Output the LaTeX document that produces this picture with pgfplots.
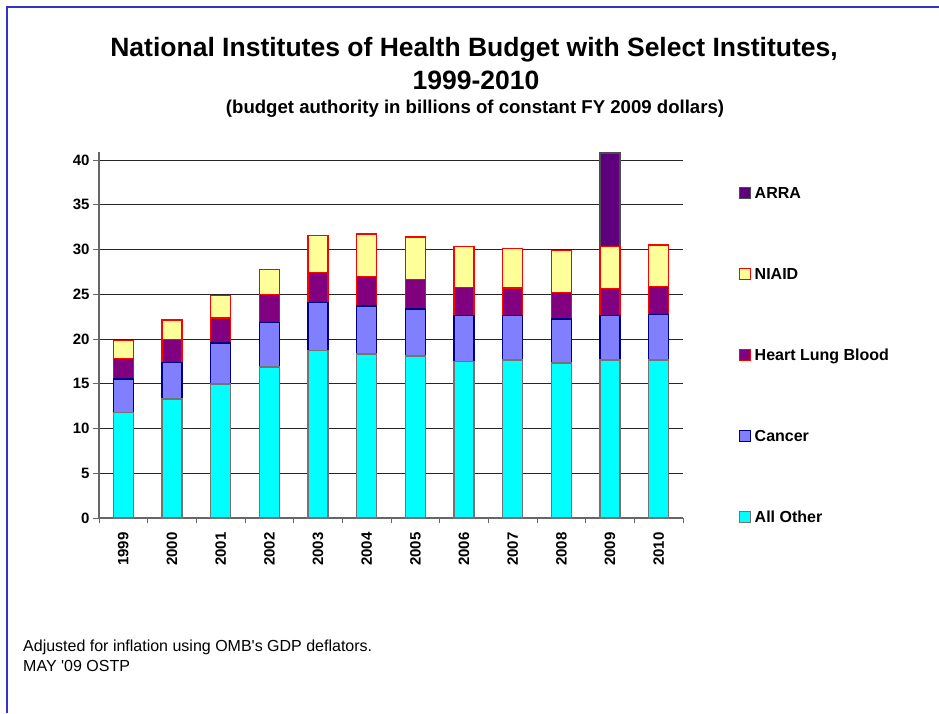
\documentclass[border=0pt]{standalone}
\usepackage{pgfplots}
\pgfplotsset{compat=1.18}
\usepackage{fontspec}
\setmainfont{Liberation Sans}[Ligatures=TeXOff]

\definecolor{frameblue}{RGB}{51,51,204}
\definecolor{allother}{RGB}{0,255,255}
\definecolor{cancer}{RGB}{128,128,255}
\definecolor{cancerEdge}{RGB}{0,0,128}
\definecolor{hlb}{RGB}{128,0,128}
\definecolor{niaid}{RGB}{255,255,153}
\definecolor{arra}{RGB}{94,0,126}

\begin{document}
\begin{tikzpicture}
\path[use as bounding box] (0pt,0pt) rectangle (939pt,713pt);
\draw[frameblue, line width=2.5pt] (6.8pt,0pt) -- (6.8pt,705.8pt) -- (939pt,705.8pt);

% titles
\node[anchor=base, font=\bfseries\fontsize{26.5}{30}\selectfont] at (474pt,656pt)
  {National Institutes of Health Budget with Select Institutes,};
\node[anchor=base, font=\bfseries\fontsize{26.5}{30}\selectfont] at (476pt,623pt) {1999-2010};
\node[anchor=base, font=\bfseries\fontsize{18.6}{22}\selectfont] at (475pt,599.7pt)
  {(budget authority in billions of constant FY 2009 dollars)};

% footnote
\node[anchor=base west, font=\fontsize{16}{19}\selectfont, inner sep=0pt] at (23pt,61.3pt)
  {Adjusted for inflation using OMB's GDP deflators.};
\node[anchor=base west, font=\fontsize{16}{19}\selectfont, inner sep=0pt] at (23pt,41.3pt)
  {MAY '09 OSTP};

\begin{axis}[
    at={(99pt,195pt)}, anchor=south west,
    scale only axis, width=584pt, height=366pt,
    ybar, bar width=20pt, bar shift=0pt,
    enlargelimits=false,
    xmin=-0.5, xmax=11.5, ymin=0, ymax=40.9,
    axis x line*=bottom, axis y line*=left,
    axis line style={black!60, line width=1.1pt},
    xtick={0,...,11},
    xticklabels={1999,2000,2001,2002,2003,2004,2005,2006,2007,2008,2009,2010},
    minor xtick={-0.5,0.5,...,11.5},
    major x tick style={draw=none},
    ytick={0,5,...,40},
    tick align=outside,
    major tick length=6pt, minor tick length=5pt,
    tick style={black!60, line width=1pt},
    ymajorgrids,
    grid style={black!85, line width=0.9pt},
    x tick label style={rotate=90, anchor=east, xshift=-5pt, font=\bfseries\fontsize{15}{18}\selectfont},
    y tick label style={font=\bfseries\fontsize{15}{18}\selectfont},
    /pgf/number format/assume math mode=true,
    legend image code/.code={\draw[#1, line width=1pt] (0pt,-4pt) rectangle (11pt,7pt);},
    legend style={draw=none, fill=none, at={(1.0959,0.9087)}, anchor=north west,
        font=\bfseries\fontsize{16}{19}\selectfont, inner sep=0pt,
        row sep=63pt,
        /tikz/every odd column/.append style={column sep=2pt},
        nodes={inner sep=1.5pt, text height=11.5pt, text depth=3.5pt}},
    legend cell align=left,
]
% bars are drawn tallest first; each number is the top of that segment
\addplot[fill=arra, draw=black!70, line width=1.2pt] coordinates {(10,40.78)};
\addplot[fill=niaid, draw=red, line width=1.2pt] coordinates {
  (0,19.81) (1,22.12) (2,24.84) (3,27.75) (4,31.58) (5,31.73)
  (6,31.40) (7,30.35) (8,30.13) (9,29.87) (10,30.35) (11,30.50)};
\addplot[fill=hlb, draw=red, line width=1.2pt] coordinates {
  (0,17.80) (1,19.93) (2,22.35) (3,24.95) (4,27.41) (5,27.00)
  (6,26.67) (7,25.77) (8,25.70) (9,25.18) (10,25.66) (11,25.85)};
\addplot[fill=cancer, draw=cancerEdge, line width=1.2pt] coordinates {
  (0,15.53) (1,17.39) (2,19.55) (3,21.86) (4,24.10) (5,23.69)
  (6,23.35) (7,22.61) (8,22.64) (9,22.23) (10,22.61) (11,22.76)};
\addplot[fill=allother, draw=black!55, line width=1.2pt] coordinates {
  (0,11.81) (1,13.30) (2,14.97) (3,16.87) (4,18.73) (5,18.32)
  (6,18.10) (7,17.50) (8,17.65) (9,17.32) (10,17.65) (11,17.65)};
\legend{ARRA, NIAID, Heart Lung Blood, Cancer, All Other}
\end{axis}
\end{tikzpicture}
\end{document}
